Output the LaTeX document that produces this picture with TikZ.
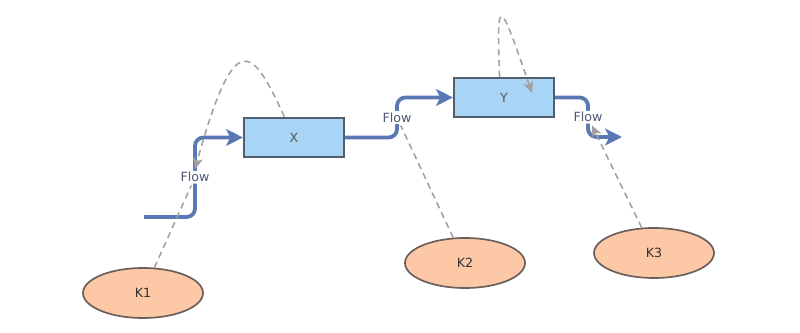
\documentclass[tikz,border=0pt]{standalone}
\usepackage{fontspec}
\setmainfont{DejaVu Sans}
\usetikzlibrary{shapes.geometric,arrows.meta}
\definecolor{flowblue}{HTML}{5A78B4}
\definecolor{flowtext}{HTML}{4B5A73}
\definecolor{boxfill}{HTML}{A8D4F5}
\definecolor{boxline}{HTML}{505F6E}
\definecolor{ellfill}{HTML}{FCC8A5}
\definecolor{ellline}{HTML}{6A5F5A}
\definecolor{linkgray}{HTML}{A0A0A0}
\begin{document}
\begin{tikzpicture}[x=0.025cm,y=-0.025cm,node font=\fontsize{9}{11}\selectfont,
stock/.style={draw=boxline,line width=1.5pt,fill=boxfill,minimum width=2.5cm,
minimum height=0.975cm,text=gray!70!black},
agent/.style={ellipse,draw=ellline,line width=1.2pt,fill=ellfill,minimum width=3cm,
minimum height=1.25cm,text=black!80},
flow/.style={draw=flowblue,line width=2.7pt,rounded corners=6pt,
-{Stealth[length=12pt,width=12pt,inset=3pt]}},
flowlabel/.style={fill=white,inner sep=1pt,text=flowtext},
link/.style={draw=linkgray,line width=1.1pt,dash pattern=on 4.5pt off 3.2pt},
linktip/.style={-{Stealth[length=8pt,width=7pt,inset=2pt]}}]
\useasboundingbox (0,0) rectangle (800,333);
% stocks and agents
\node[stock] (X) at (294,137.5) {X};
\node[stock] (Y) at (504,97.5) {Y};
\node[agent] (K1) at (143,293) {K1};
\node[agent] (K2) at (465,263) {K2};
\node[agent] (K3) at (654,253) {K3};
\coordinate (src) at (144,217);
\coordinate (sink) at (622,137);
\coordinate (yin) at (532,93);
% flows
\draw[flow] (src) -| node[flowlabel,pos=0.75] (f1) {Flow} (195,137.5) -- (X.west);
\draw[flow] (X.east) -| node[flowlabel,pos=0.75] (f2) {Flow} (397,97.5) -- (Y.west);
\draw[flow] (Y.east) -| node[flowlabel,pos=0.75] (f3) {Flow} (588,137) -- (sink);
% links
\draw[link] (K1) -- (f1);
\draw[link,linktip] (X.115) .. controls (252,46) and (235,25) .. (f1.north);
\draw[link] (K2) -- (f2);
\draw[link,linktip] (K3) -- (f3);
\draw[link,linktip] (Y.102) .. controls (496,-10) and (500,0) .. (yin);
\end{tikzpicture}
\end{document}
